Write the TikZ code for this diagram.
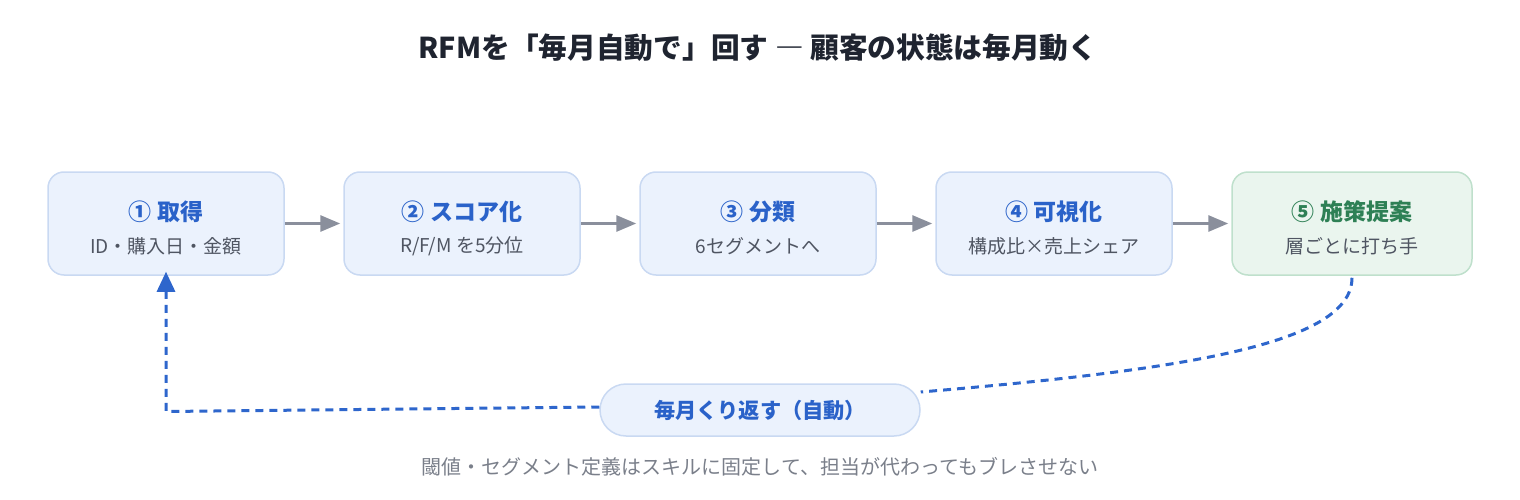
\documentclass[tikz,border=0pt]{standalone}
\usepackage{fontspec}
\setmainfont{Noto Sans CJK JP}
\usetikzlibrary{arrows.meta,positioning}
\definecolor{boxfill}{HTML}{EBF2FD}
\definecolor{boxline}{HTML}{C9D9F2}
\definecolor{bluetxt}{HTML}{2A62C9}
\definecolor{greenfill}{HTML}{EAF5EE}
\definecolor{greenline}{HTML}{BFE0CC}
\definecolor{greentxt}{HTML}{2E8055}
\definecolor{subtxt}{HTML}{4F5562}
\definecolor{arrowgray}{HTML}{8A8F9C}
\definecolor{loopblue}{HTML}{2E66CC}
\definecolor{titletxt}{HTML}{1F2430}
\definecolor{notetxt}{HTML}{7A7F8A}
\tikzset{
  stepbox/.style={draw=boxline, fill=boxfill, line width=1.5pt, rounded corners=16pt,
    minimum width=236pt, minimum height=103pt, inner sep=0pt},
  greenbox/.style={stepbox, draw=greenline, fill=greenfill},
  head/.style={font=\fontsize{23}{27}\selectfont\bfseries, text=bluetxt},
  greenhead/.style={head, text=greentxt},
  sub/.style={font=\fontsize{19}{22}\selectfont, text=subtxt},
  flow/.style={draw=arrowgray, line width=3pt, -{Triangle[length=20pt,width=16pt]}, shorten >=3pt},
  loopline/.style={draw=loopblue, line width=3pt, dash pattern=on 8pt off 6pt},
  pill/.style={draw=boxline, fill=boxfill, line width=1.5pt, rounded corners=26pt,
    minimum width=320pt, minimum height=52pt, inner sep=0pt,
    font=\fontsize{21.2}{25}\selectfont\bfseries, text=bluetxt}
}
\begin{document}
\begin{tikzpicture}[x=1pt,y=-1pt]
\useasboundingbox (0,0) rectangle (1520,500);
\node[font=\fontsize{28.7}{32}\selectfont\bfseries, text=titletxt] (title) at (758,48) {RFMを「毎月自動で」回す ― 顧客の状態は毎月動く};

\node[stepbox] (b1) at (166,223.5) {};
\node[stepbox] (b2) at (462,223.5) {};
\node[stepbox] (b3) at (758,223.5) {};
\node[stepbox] (b4) at (1054,223.5) {};
\node[greenbox, minimum width=240pt] (b5) at (1352,223.5) {};

\node[head] (h1) at (166,212) {① 取得};
\node[sub] (s1) at (166,246) {ID・購入日・金額};
\node[head] (h2) at (462,212) {② スコア化};
\node[sub] (s2) at (462,246) {R/F/M を5分位};
\node[head] (h3) at (758,212) {③ 分類};
\node[sub] (s3) at (758,246) {6セグメントへ};
\node[head] (h4) at (1054,212) {④ 可視化};
\node[sub] (s4) at (1054,246) {構成比×売上シェア};
\node[greenhead] (h5) at (1352,212) {⑤ 施策提案};
\node[sub] (s5) at (1352,246) {層ごとに打ち手};

\draw[flow] (b1.east) -- (b2.west);
\draw[flow] (b2.east) -- (b3.west);
\draw[flow] (b3.east) -- (b4.west);
\draw[flow] (b4.east) -- (b5.west);

\node[pill] (loop) at (760,410) {毎月くり返す（自動）};

\coordinate (corner) at (166,411.5);
\draw[loopline] (b5.south) ++(0,2) .. controls (1352,345) and (1180,370) .. (loop.east |- 0,392);
\draw[loopline, -{Triangle[length=20pt,width=18pt]}] (loop.west |- 0,407) -- (corner) -- ([yshift=4pt]b1.south);

\node[font=\fontsize{20}{23}\selectfont, text=notetxt] (note) at (760,467) {閾値・セグメント定義はスキルに固定して、担当が代わってもブレさせない};
\end{tikzpicture}
\end{document}
